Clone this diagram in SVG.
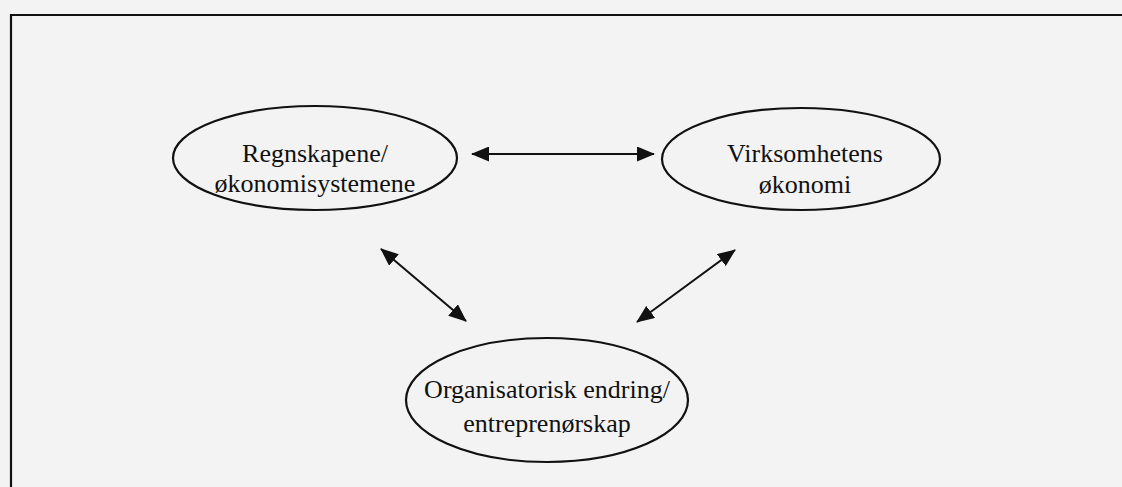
<svg xmlns="http://www.w3.org/2000/svg" width="1122" height="487" viewBox="0 0 1122 487">
  <defs>
    <marker id="head" viewBox="0 0 18 15" refX="17" refY="7.5" markerWidth="18" markerHeight="15" markerUnits="userSpaceOnUse" orient="auto-start-reverse">
      <path d="M0,0 L18,7.5 L0,15 Z" fill="#111"/>
    </marker>
  </defs>
  <style>
    .node ellipse { fill: none; stroke: #111; stroke-width: 2.2; }
    .node text { font-family: "Liberation Serif", "Times New Roman", serif; font-size: 26px; fill: #111; text-anchor: middle; }
    .edge { stroke: #111; stroke-width: 2; fill: none; marker-start: url(#head); marker-end: url(#head); }
    .frame { fill: none; stroke: #111; stroke-width: 2.2; }
  </style>
  <rect width="1122" height="487" fill="#f3f3f3"/>
  <path class="frame" d="M11,500 V15 H1130"/>

  <g id="node-regnskap" class="node">
    <ellipse cx="315" cy="158" rx="142" ry="52"/>
    <text x="315" y="162">Regnskapene/</text>
    <text x="315" y="192">økonomisystemene</text>
  </g>

  <g id="node-virksomhet" class="node">
    <ellipse cx="801" cy="159" rx="139" ry="51"/>
    <text x="805" y="162">Virksomhetens</text>
    <text x="805" y="193">økonomi</text>
  </g>

  <g id="node-organisasjon" class="node">
    <ellipse cx="547" cy="400" rx="141" ry="62"/>
    <text x="547" y="398">Organisatorisk endring/</text>
    <text x="547" y="432">entreprenørskap</text>
  </g>

  <g id="connectors">
    <line class="edge" x1="472" y1="154" x2="654" y2="154"/>
    <line class="edge" x1="381" y1="249" x2="466" y2="321"/>
    <line class="edge" x1="735" y1="250" x2="637" y2="322"/>
  </g>
</svg>
